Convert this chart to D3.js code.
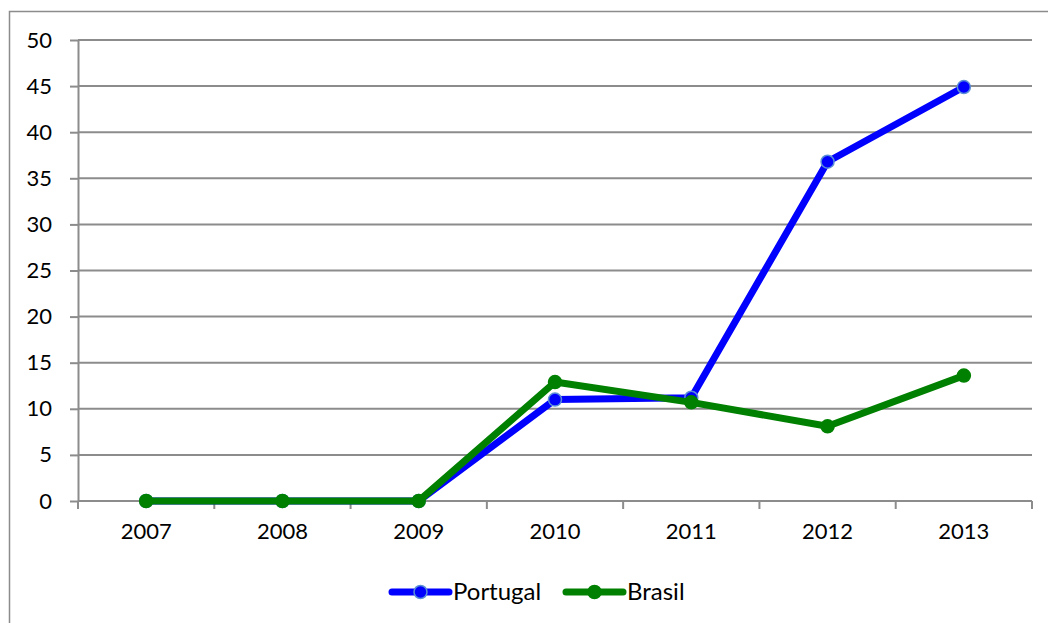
<!DOCTYPE html>
<html>
<head>
<meta charset="utf-8">
<script src="https://cdn.jsdelivr.net/npm/d3@7"></script>
<style>
  html, body { margin: 0; padding: 0; background: #fff; }
  svg { display: block; }
  text { font-family: Lato, "Open Sans", sans-serif; fill: #000; }
</style>
</head>
<body>
<svg id="chart" width="1048" height="623"></svg>
<script>
// Yearly values per country
const years = ["2007", "2008", "2009", "2010", "2011", "2012", "2013"];
const portugal = [0, 0, 0, 11.0, 11.2, 36.8, 44.9];
const brasil = [0, 0, 0, 12.9, 10.7, 8.1, 13.6];
const yTicks = [0, 5, 10, 15, 20, 25, 30, 35, 40, 45, 50];
const seriesNames = ["Portugal", "Brasil"];

const plot = { left: 78, right: 1032, top: 40, bottom: 501 };
const gridColor = "#8c8c8c";

const svg = d3.select("#chart");

// outer chart frame
svg.append("rect")
  .attr("x", 9.5).attr("y", 11.5)
  .attr("width", 1100).attr("height", 700)
  .attr("fill", "none").attr("stroke", gridColor).attr("stroke-width", 1.5);

const x = d3.scaleBand().domain(years).range([plot.left, plot.right]);
const y = d3.scaleLinear().domain([0, 50]).range([plot.bottom, plot.top]);

// horizontal gridlines
svg.append("g")
  .selectAll("line").data(yTicks.filter(d => d > 0)).join("line")
  .attr("x1", plot.left).attr("x2", plot.right)
  .attr("y1", d => y(d)).attr("y2", d => y(d))
  .attr("stroke", gridColor).attr("stroke-width", 2);

// y axis
const yAxis = svg.append("g")
  .attr("transform", `translate(${plot.left},0)`)
  .call(d3.axisLeft(y).tickValues(yTicks).tickSize(8).tickPadding(18).tickSizeOuter(0));
yAxis.select(".domain").attr("stroke", gridColor).attr("stroke-width", 2);
yAxis.selectAll(".tick line").attr("stroke", gridColor).attr("stroke-width", 2);
yAxis.selectAll(".tick text").style("font-size", "22px").attr("font-family", null);

// x axis with ticks at category boundaries
const xAxis = svg.append("g")
  .attr("transform", `translate(0,${plot.bottom})`)
  .call(d3.axisBottom(x).tickSize(0).tickPadding(22).tickSizeOuter(0));
xAxis.select(".domain").remove();
xAxis.selectAll(".tick text").style("font-size", "22px").attr("font-family", null);
svg.append("line")
  .attr("x1", plot.left).attr("x2", plot.right)
  .attr("y1", plot.bottom).attr("y2", plot.bottom)
  .attr("stroke", gridColor).attr("stroke-width", 2);
const boundaries = years.map(d => x(d)).concat([x(years[years.length - 1]) + x.bandwidth()]);
svg.append("g")
  .selectAll("line").data(boundaries).join("line")
  .attr("x1", d => d).attr("x2", d => d)
  .attr("y1", plot.bottom).attr("y2", plot.bottom + 8)
  .attr("stroke", gridColor).attr("stroke-width", 2);

const cx = d => x(d) + x.bandwidth() / 2;
const line = d3.line().x((d, i) => cx(years[i])).y(d => y(d));

const series = [
  { name: seriesNames[0], values: portugal, color: "#0000ff", markerStroke: "#5b8fd6" },
  { name: seriesNames[1], values: brasil, color: "#008000", markerStroke: "#008000" }
];

series.forEach(s => {
  svg.append("path")
    .attr("d", line(s.values))
    .attr("fill", "none").attr("stroke", s.color)
    .attr("stroke-width", 7).attr("stroke-linejoin", "round").attr("stroke-linecap", "round");
  svg.append("g").selectAll("circle").data(s.values).join("circle")
    .attr("cx", (d, i) => cx(years[i])).attr("cy", d => y(d))
    .attr("r", 6.5)
    .attr("fill", s.color).attr("stroke", s.markerStroke).attr("stroke-width", 1.5);
});

// legend
const legendItems = [
  { s: series[0], x0: 392 },
  { s: series[1], x0: 566 }
];
const ly = 592;
legendItems.forEach(({ s, x0 }) => {
  svg.append("line")
    .attr("x1", x0).attr("x2", x0 + 57).attr("y1", ly).attr("y2", ly)
    .attr("stroke", s.color).attr("stroke-width", 7).attr("stroke-linecap", "round");
  svg.append("circle")
    .attr("cx", x0 + 28.5).attr("cy", ly).attr("r", 6.5)
    .attr("fill", s.color).attr("stroke", s.markerStroke).attr("stroke-width", 1.5);
  svg.append("text")
    .attr("x", x0 + 61).attr("y", ly).attr("dy", "0.35em")
    .style("font-size", "24px")
    .text(s.name);
});
</script>
</body>
</html>
